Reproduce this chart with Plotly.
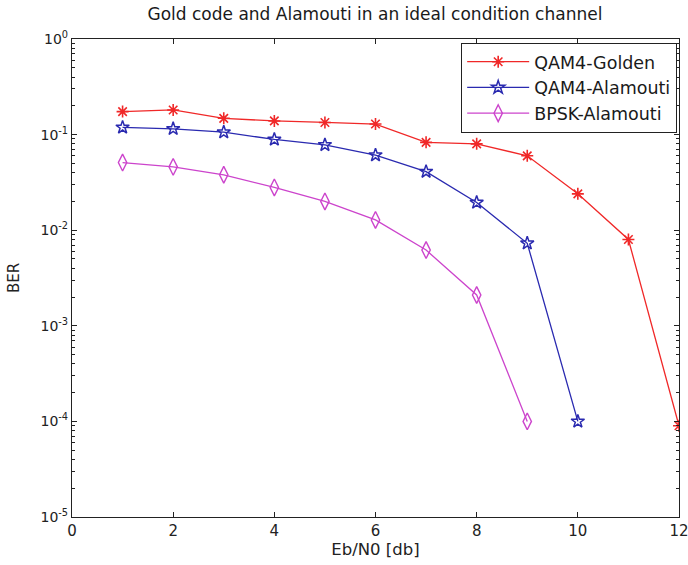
import plotly.graph_objects as go

# Eb/N0 sweep (dB)
ebn0_golden = [1, 2, 3, 4, 5, 6, 7, 8, 9, 10, 11, 12]
ebn0_qam_alamouti = [1, 2, 3, 4, 5, 6, 7, 8, 9, 10]
ebn0_bpsk_alamouti = [1, 2, 3, 4, 5, 6, 7, 8, 9]

# Bit error rates
ber_qam4_golden = [0.174, 0.181, 0.148, 0.139, 0.134, 0.129, 0.083, 0.080, 0.060, 0.024, 0.0080, 0.00009]
ber_qam4_alamouti = [0.119, 0.115, 0.106, 0.089, 0.078, 0.061, 0.041, 0.0195, 0.0073, 0.0001]
ber_bpsk_alamouti = [0.051, 0.046, 0.038, 0.028, 0.020, 0.0128, 0.0062, 0.0021, 0.0001]

series_names = ["QAM4-Golden", "QAM4-Alamouti", "BPSK-Alamouti"]

x_ticks = [0, 2, 4, 6, 8, 10, 12]
y_exponents = [0, -1, -2, -3, -4, -5]

font_family = "DejaVu Sans, Liberation Sans, Arial, sans-serif"

fig = go.Figure()

fig.add_trace(go.Scatter(
    x=ebn0_golden, y=ber_qam4_golden, name=series_names[0],
    mode="lines+markers",
    line=dict(color="#f02828", width=1.3),
    marker=dict(symbol="asterisk-open", size=10, color="#f02828",
                line=dict(color="#f02828", width=1.6)),
))
fig.add_trace(go.Scatter(
    x=ebn0_qam_alamouti, y=ber_qam4_alamouti, name=series_names[1],
    mode="lines+markers",
    line=dict(color="#2a2ab0", width=1.3),
    marker=dict(symbol="star-open", size=10, color="#2a2ab0",
                line=dict(color="#2a2ab0", width=1.5)),
))
fig.add_trace(go.Scatter(
    x=ebn0_bpsk_alamouti, y=ber_bpsk_alamouti, name=series_names[2],
    mode="lines+markers",
    line=dict(color="#cc44cc", width=1.3),
    marker=dict(symbol="diamond-tall-open", size=12, color="#cc44cc",
                line=dict(color="#cc44cc", width=1.4)),
))

# minor decade ticks 2..9 x 10^k
minor_vals = [m * 10.0 ** k for k in range(-5, 0) for m in range(2, 10)]

fig.update_layout(
    width=688, height=565,
    margin=dict(l=72, r=9, t=39, b=48, autoexpand=False),
    paper_bgcolor="white", plot_bgcolor="white",
    font=dict(family=font_family, size=15, color="#222"),
    title=dict(text="Gold code and Alamouti in an ideal condition channel",
               x=0.545, xanchor="center", y=0.975, yanchor="middle",
               font=dict(size=17, color="#1a1a1a")),
    showlegend=True,
    legend=dict(x=0.997, y=0.992, xanchor="right", yanchor="top",
                bordercolor="#222", borderwidth=1, bgcolor="white",
                font=dict(size=17.5, color="#1a1a1a"), itemwidth=62,
                tracegroupgap=0),
)

fig.update_xaxes(
    range=[0, 12], tickmode="array", tickvals=x_ticks,
    ticktext=[str(v) for v in x_ticks],
    ticks="inside", ticklen=5, tickcolor="#222", tickwidth=1,
    showline=True, linecolor="#222", linewidth=1.2, mirror="ticks",
    showgrid=False, zeroline=False, automargin=False,
    ticklabeloverflow="allow",
    title=dict(text="Eb/N0 [db]", standoff=4, font=dict(size=16.5)),
    tickfont=dict(size=15),
)
fig.update_yaxes(
    type="log", range=[-5, 0], tickmode="array",
    tickvals=[10.0 ** e for e in y_exponents],
    ticktext=["10<sup>%d</sup>" % e for e in y_exponents],
    ticks="inside", ticklen=5, tickcolor="#222", tickwidth=1,
    minor=dict(tickmode="array", tickvals=minor_vals, ticks="inside",
               ticklen=3, tickcolor="#222", showgrid=False),
    showline=True, linecolor="#222", linewidth=1.2, mirror="ticks",
    showgrid=False, zeroline=False, automargin=False,
    title=dict(text="BER", standoff=17, font=dict(size=15)),
    tickfont=dict(size=14),
)

fig.write_html("out.html")
